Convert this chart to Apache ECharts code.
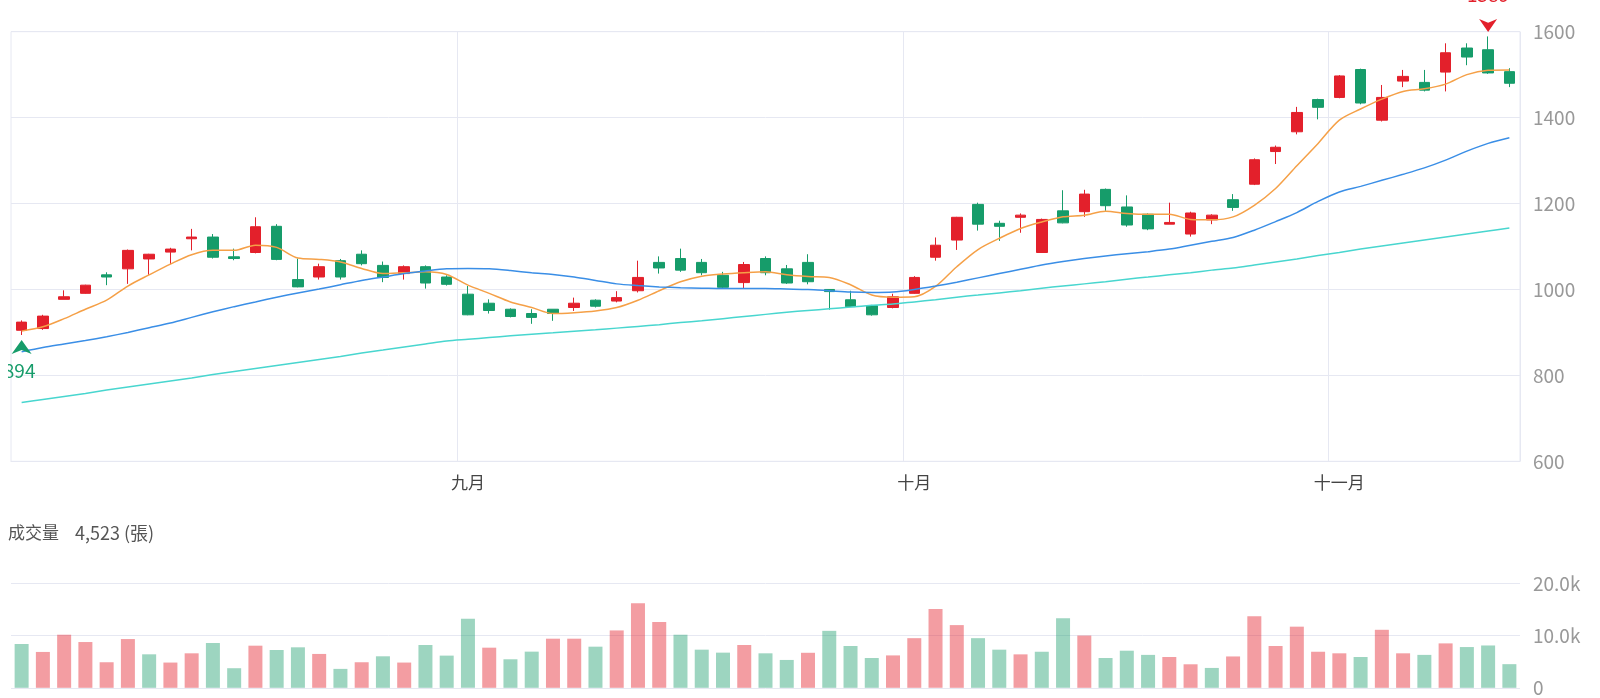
<!DOCTYPE html>
<html>
<head>
<meta charset="utf-8">
<script src="https://cdn.jsdelivr.net/npm/echarts@6/dist/echarts.min.js"></script>
<style>
  html, body { margin: 0; background: #fff; }
  #chart { position: absolute; left: 8px; top: 0; width: 1584px; height: 698px; }
</style>
</head>
<body>
<div id="chart"></div>
<script>
// trading days, Aug - Nov
const dates = [
  '08/02','08/05','08/06','08/07','08/08','08/09','08/12','08/13','08/14','08/15','08/16',
  '08/19','08/20','08/21','08/22','08/23','08/26','08/27','08/28','08/29','08/30',
  '09/02','09/03','09/04','09/05','09/06','09/09','09/10','09/11','09/12','09/13',
  '09/16','09/17','09/18','09/19','09/20','09/23','09/24','09/25','09/26','09/27','09/30',
  '10/01','10/02','10/04','10/07','10/08','10/09','10/11','10/14','10/15','10/16',
  '10/17','10/18','10/21','10/22','10/23','10/24','10/25','10/28','10/29','10/30',
  '11/01','11/04','11/05','11/06','11/07','11/08','11/11','11/12','11/13'
]
const monthNames = { '08': '八月', '09': '九月', '10': '十月', '11': '十一月' }

const opens = [
  905, 909, 977, 991, 1034, 1048, 1071, 1087, 1118, 1122,
  1076, 1086, 1147, 1023, 1029, 1067, 1082, 1056, 1037, 1053,
  1029, 989, 968, 954, 944, 954, 958, 975, 973, 997,
  1063, 1072, 1063, 1033, 1016, 1072, 1048, 1063, 1000, 976,
  962, 958, 991, 1075, 1115, 1198, 1154, 1168, 1086, 1183,
  1181, 1233, 1192, 1175, 1152, 1129, 1162, 1209, 1245, 1321,
  1367, 1442, 1447, 1512, 1394, 1485, 1482, 1506, 1562, 1558,
  1507
]
const closes = [
  924, 938, 983, 1010, 1029, 1091, 1082, 1094, 1122, 1075,
  1072, 1146, 1070, 1006, 1053, 1029, 1060, 1028, 1053, 1015,
  1012, 941, 951, 937, 935, 944, 968, 961, 981, 1028,
  1050, 1045, 1039, 1005, 1058, 1039, 1015, 1018, 995, 960,
  941, 983, 1028, 1103, 1168, 1152, 1147, 1173, 1163, 1155,
  1222, 1195, 1150, 1141, 1156, 1178, 1173, 1191, 1302, 1331,
  1412, 1424, 1497, 1434, 1447, 1496, 1464, 1551, 1541, 1504,
  1480
]
const lows = [
  894, 906, 977, 990, 1010, 1013, 1034, 1059, 1091, 1072,
  1068, 1084, 1068, 1005, 1023, 1023, 1056, 1017, 1023, 1002,
  1009, 940, 944, 935, 920, 927, 950, 958, 970, 993,
  1037, 1041, 1033, 1002, 1002, 1033, 1013, 1012, 953, 959,
  939, 956, 990, 1067, 1092, 1137, 1113, 1132, 1085, 1154,
  1169, 1183, 1146, 1138, 1152, 1123, 1152, 1183, 1243, 1292,
  1361, 1396, 1445, 1431, 1391, 1471, 1461, 1461, 1522, 1502,
  1471
]
const highs = [
  928, 941, 998, 1011, 1040, 1093, 1083, 1097, 1141, 1129,
  1095, 1168, 1152, 1072, 1060, 1071, 1091, 1065, 1056, 1056,
  1033, 1008, 977, 956, 954, 954, 981, 977, 996, 1067,
  1077, 1095, 1071, 1041, 1064, 1077, 1057, 1082, 1000, 997,
  964, 990, 1031, 1121, 1169, 1202, 1160, 1177, 1165, 1231,
  1232, 1235, 1219, 1177, 1202, 1181, 1175, 1222, 1305, 1335,
  1425, 1444, 1499, 1514, 1476, 1511, 1511, 1573, 1573, 1589,
  1515
]
const prevClose = 931

const ma5 = [
  903, 913, 932, 954, 975, 1008, 1034, 1059, 1081, 1091,
  1091, 1103, 1098, 1073, 1070, 1064, 1049, 1037, 1039, 1041,
  1035, 1010, 991, 971, 958, 944, 946, 950, 958, 975,
  997, 1018, 1031, 1036, 1039, 1041, 1034, 1030, 1028, 1011,
  987, 982, 983, 1007, 1053, 1093, 1119, 1142, 1157, 1169,
  1173, 1182, 1177, 1175, 1175, 1163, 1162, 1169, 1196, 1235,
  1288, 1340, 1394, 1420, 1443, 1461, 1467, 1478, 1500, 1510,
  1511
]
const ma20 = [
  855, 865, 873, 881, 890, 900, 911, 922, 935, 948,
  960, 971, 982, 992, 1001, 1011, 1021, 1029, 1037, 1043,
  1048, 1049, 1048, 1044, 1039, 1035, 1029, 1021, 1013, 1009,
  1006, 1004, 1003, 1002, 1002, 1002, 1001, 1000, 997, 994,
  993, 994, 1000, 1008, 1017, 1027, 1037, 1047, 1057, 1065,
  1072, 1078, 1083, 1088, 1094, 1103, 1112, 1121, 1138, 1158,
  1179, 1205, 1227, 1240, 1254, 1268, 1283, 1301, 1322, 1340,
  1353
]
const ma60 = [
  737, 744, 751, 758, 766, 773, 780, 787, 794, 802,
  809, 816, 823, 830, 837, 844, 852, 859, 866, 873,
  880, 884, 888, 892, 896, 899, 903, 906, 910, 914,
  918, 923, 927, 932, 937, 942, 947, 951, 955, 959,
  963, 966, 971, 976, 982, 987, 992, 997, 1003, 1008,
  1013, 1018, 1024, 1029, 1034, 1039, 1045, 1050, 1057, 1064,
  1071, 1079, 1086, 1094, 1101, 1108, 1115, 1122, 1129, 1136,
  1143
]
// 成交量 (張)
const volumes = [
  8380, 6860, 10160, 8760, 4890, 9330, 6410, 4830, 6600, 8570,
  3750, 8060, 7240, 7750, 6480, 3620, 4890, 6030, 4830, 8190,
  6160, 13200, 7680, 5460, 6920, 9400, 9400, 7870, 10980, 16190,
  12570, 10160, 7300, 6730, 8190, 6600, 5330, 6700, 10900, 8000,
  5700, 6200, 9500, 15100, 12000, 9500, 7300, 6400, 6900, 13300,
  10000, 5700, 7100, 6300, 5900, 4500, 3800, 6000, 13700, 8000,
  11700, 6900, 6600, 5900, 11100, 6600, 6300, 8500, 7800, 8100,
  4523
]

const UP = '#e3202b'
const DOWN = '#169c6a'
const GRID = '#e6e8f2'
const FONT = '"Noto Sans CJK TC", "Noto Sans", sans-serif'

const isMonthStart = i => i > 0 && dates[i].slice(0, 2) !== dates[i - 1].slice(0, 2)

const hi = Math.max(...highs), hiIdx = highs.indexOf(hi)
const lo = Math.min(...lows), loIdx = lows.indexOf(lo)

const chart = echarts.init(document.getElementById('chart'))

const maLine = (name, data, color) => ({
  name, type: 'line', data, xAxisIndex: 0, yAxisIndex: 0,
  symbol: 'none', smooth: 0.3, silent: true,
  lineStyle: { color, width: 1.5 }
})

chart.setOption({
  animation: false,
  textStyle: { fontFamily: FONT },
  title: {
    text: '{a|成交量}{b|' + volumes[volumes.length - 1].toLocaleString('en-US') + ' (張)}',
    left: 0, top: 524, padding: 0,
    textStyle: {
      fontWeight: 'normal',
      rich: {
        a: { fontSize: 17, color: '#555', fontWeight: 'normal', fontFamily: FONT },
        b: { fontSize: 18, color: '#555', fontWeight: 'normal', fontFamily: FONT, padding: [0, 0, 0, 16] }
      }
    }
  },
  grid: [
    { left: 3, width: 1509, top: 31.7, height: 429.6, show: true, borderColor: GRID, borderWidth: 1 },
    { left: 3, width: 1509, top: 583.3, height: 104.5 }
  ],
  xAxis: [
    {
      type: 'category', gridIndex: 0, data: dates, boundaryGap: true,
      axisLine: { lineStyle: { color: GRID } },
      axisTick: { show: false },
      axisLabel: {
        interval: i => isMonthStart(i),
        formatter: v => monthNames[v.slice(0, 2)],
        color: '#444', fontSize: 17, margin: 13, fontFamily: FONT
      },
      splitLine: { show: true, interval: i => isMonthStart(i), lineStyle: { color: GRID } }
    },
    {
      type: 'category', gridIndex: 1, data: dates, boundaryGap: true,
      axisLine: { show: false }, axisTick: { show: false }, axisLabel: { show: false },
      splitLine: { show: false }
    }
  ],
  yAxis: [
    {
      type: 'value', gridIndex: 0, position: 'right', min: 600, max: 1600, interval: 200,
      axisLine: { show: false }, axisTick: { show: false },
      axisLabel: {
        color: '#999', fontSize: 19, margin: 13, fontFamily: FONT, padding: [0, 0, 6, 0],
        formatter: v => String(v)
      },
      splitLine: { lineStyle: { color: GRID } }
    },
    {
      type: 'value', gridIndex: 1, position: 'right', min: 0, max: 20000, interval: 10000,
      axisLine: { show: false }, axisTick: { show: false },
      axisLabel: {
        color: '#999', fontSize: 19, margin: 13, fontFamily: FONT, padding: [0, 0, 4, 0],
        formatter: v => v === 0 ? '0' : (v / 1000).toFixed(1) + 'k'
      },
      splitLine: { lineStyle: { color: GRID } }
    }
  ],
  series: [
    {
      type: 'candlestick', xAxisIndex: 0, yAxisIndex: 0, barWidth: 11,
      data: dates.map((d, i) => [opens[i], closes[i], lows[i], highs[i]]),
      itemStyle: { color: UP, color0: DOWN, borderColor: UP, borderColor0: DOWN, borderWidth: 1 },
      markPoint: {
        silent: true,
        data: [
          {
            coord: [dates[hiIdx], hi], value: hi,
            symbol: 'path://M0,0 L10,4 L20,0 L10,14 Z', symbolSize: [18, 13], symbolOffset: [0, -11],
            itemStyle: { color: UP },
            label: { show: true, position: 'top', distance: 15, color: UP, fontSize: 19, fontFamily: FONT }
          },
          {
            coord: [dates[loIdx], lo], value: lo,
            symbol: 'path://M0,14 L10,10 L20,14 L10,0 Z', symbolSize: [20, 14], symbolOffset: [0, 12],
            itemStyle: { color: DOWN },
            label: { show: true, position: 'bottom', distance: 7, offset: [-2, 0], color: DOWN, fontSize: 19, fontFamily: FONT }
          }
        ]
      }
    },
    maLine('MA5', ma5, '#f5a047'),
    maLine('MA20', ma20, '#3a8ee6'),
    maLine('MA60', ma60, '#48d6cf'),
    {
      name: '成交量', type: 'bar', xAxisIndex: 1, yAxisIndex: 1, barWidth: 14,
      data: volumes.map((v, i) => {
        const prev = i ? closes[i - 1] : prevClose
        return {
          value: v,
          itemStyle: { color: closes[i] > prev ? 'rgba(227,32,43,0.44)' : 'rgba(22,156,106,0.42)' }
        }
      })
    }
  ]
})
</script>
</body>
</html>
